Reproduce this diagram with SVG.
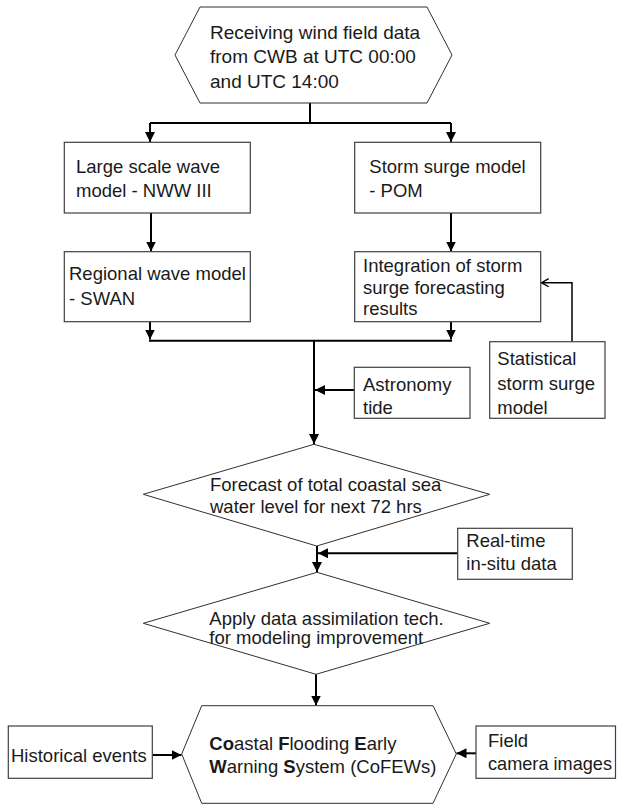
<svg xmlns="http://www.w3.org/2000/svg" width="617" height="805" viewBox="0 0 617 805">
<style>
  .box{fill:#fff;stroke:#404040;stroke-width:1.2}
  .shape{fill:#fff;stroke:#303030;stroke-width:1}
  .t{font-family:"Liberation Sans",Arial,sans-serif;font-size:18.5px;fill:#1a1a1a}
  .big{font-size:19px}
  .c{fill:none;stroke:#000;stroke-width:2}
  .thin{fill:none;stroke:#000;stroke-width:1.5}
  .b{font-weight:bold}
</style>
<defs>
  <marker id="ah" viewBox="0 0 10 10" markerWidth="10" markerHeight="10" refX="10" refY="5" orient="auto" markerUnits="userSpaceOnUse">
    <path d="M0,0 L10,5 L0,10 z" fill="#000"/>
  </marker>
  <marker id="oh" viewBox="0 0 10 10" markerWidth="9" markerHeight="9" refX="9" refY="5" orient="auto" markerUnits="userSpaceOnUse">
    <path d="M1,0.5 L9,5 L1,9.5" fill="none" stroke="#000" stroke-width="1.5"/>
  </marker>
</defs>

<g id="connectors">
  <path class="c" d="M310,103 V123"/>
  <path class="c" d="M150,123 H451"/>
  <path class="c" d="M150,123 V142" marker-end="url(#ah)"/>
  <path class="c" d="M451,123 V142" marker-end="url(#ah)"/>
  <path class="c" d="M151,213 V251.5" marker-end="url(#ah)"/>
  <path class="c" d="M451,213 V251.5" marker-end="url(#ah)"/>
  <path class="c" d="M150,321.7 V339.5" marker-end="url(#ah)"/>
  <path class="c" d="M451,321.7 V339.5" marker-end="url(#ah)"/>
  <path class="c" d="M149,340.7 H452"/>
  <path class="c" d="M314,340.7 V444" marker-end="url(#ah)"/>
  <path class="c" d="M354.3,390 H315" marker-end="url(#ah)"/>
  <path class="thin" d="M572,341.7 V282.7 H541.5" marker-end="url(#oh)"/>
  <path class="c" d="M317,546 V572" marker-end="url(#ah)"/>
  <path class="c" d="M457.7,553.3 H318" marker-end="url(#ah)"/>
  <path class="c" d="M316,674.3 V705.5" marker-end="url(#ah)"/>
  <path class="c" d="M152.3,755 H181.5" marker-end="url(#ah)"/>
  <path class="c" d="M476,753.3 H456.5" marker-end="url(#ah)"/>
</g>

<g id="start">
  <polygon class="shape" points="200,7 427,7 452,55 427,103 200,103 175,55"/>
  <text class="t big" x="210" y="39">Receiving wind field data</text>
  <text class="t big" x="210" y="63">from CWB at UTC 00:00</text>
  <text class="t big" x="210" y="88">and UTC 14:00</text>
</g>

<g id="nww">
  <rect class="box" x="64.3" y="142.3" width="186" height="70.7"/>
  <text class="t" x="76" y="173.3">Large scale wave</text>
  <text class="t" x="76" y="197.3">model - NWW III</text>
</g>

<g id="pom">
  <rect class="box" x="354.7" y="142.3" width="186" height="70.7"/>
  <text class="t" x="369.3" y="172.7">Storm surge model</text>
  <text class="t" x="369.3" y="197">- POM</text>
</g>

<g id="swan">
  <rect class="box" x="64.3" y="251.7" width="186" height="70"/>
  <text class="t" x="69" y="280">Regional wave model</text>
  <text class="t" x="69" y="305">- SWAN</text>
</g>

<g id="integration">
  <rect class="box" x="354.7" y="251.7" width="186" height="70"/>
  <text class="t" x="363" y="271.7">Integration of storm</text>
  <text class="t" x="363" y="294.3">surge forecasting</text>
  <text class="t" x="363" y="315">results</text>
</g>

<g id="statistical">
  <rect class="box" x="489.7" y="341.7" width="115.3" height="76.6"/>
  <text class="t" x="497.3" y="365">Statistical</text>
  <text class="t" x="497.3" y="390">storm surge</text>
  <text class="t" x="497.3" y="414.3">model</text>
</g>

<g id="astronomy">
  <rect class="box" x="354.3" y="367.3" width="115.7" height="51"/>
  <text class="t" x="363" y="390.7">Astronomy</text>
  <text class="t" x="363" y="414.3">tide</text>
</g>

<g id="forecast">
  <polygon class="shape" points="314,444.3 489.7,494.3 316.7,546 143.3,494.3"/>
  <text class="t" x="210" y="490.7">Forecast of total coastal sea</text>
  <text class="t" x="210" y="513.3">water level for next 72 hrs</text>
</g>

<g id="realtime">
  <rect class="box" x="457.7" y="528.3" width="114.6" height="51"/>
  <text class="t" x="466.3" y="546.7">Real-time</text>
  <text class="t" x="466.3" y="570">in-situ data</text>
</g>

<g id="assimilation">
  <polygon class="shape" points="317,572.3 489.7,623.3 316,674.3 143.3,623.3"/>
  <text class="t" x="209.3" y="625">Apply data assimilation tech.</text>
  <text class="t" x="209.3" y="644">for modeling improvement</text>
</g>

<g id="cofews">
  <polygon class="shape" points="201.7,705.7 433,705.7 456.3,754 433,803.3 201.7,803.3 181.7,754"/>
  <text class="t" x="209.3" y="750"><tspan class="b">Co</tspan>astal <tspan class="b">F</tspan>looding  <tspan class="b">E</tspan>arly</text>
  <text class="t" x="209.3" y="773.3"><tspan class="b">W</tspan>arning <tspan class="b">S</tspan>ystem (CoFEWs)</text>
</g>

<g id="historical">
  <rect class="box" x="8.3" y="726" width="144" height="52.3"/>
  <text class="t" x="11" y="761.7">Historical events</text>
</g>

<g id="field">
  <rect class="box" x="476" y="726" width="139.5" height="52.3"/>
  <text class="t" x="488" y="746.7">Field</text>
  <text class="t" x="488" y="770" textLength="124" lengthAdjust="spacingAndGlyphs">camera images</text>
</g>
</svg>
